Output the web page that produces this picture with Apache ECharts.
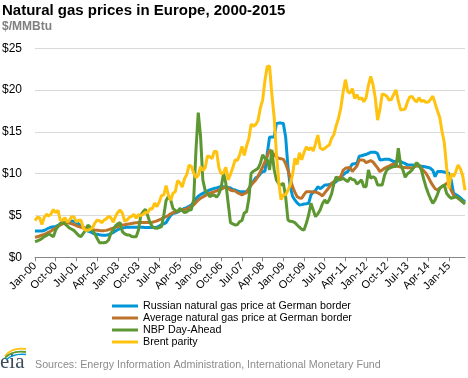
<!DOCTYPE html>
<html><head><meta charset="utf-8">
<script src="https://cdn.jsdelivr.net/npm/echarts@6/dist/echarts.min.js"></script>
<style>html,body{margin:0;padding:0;background:#fff}#c{width:468px;height:378px}</style>
</head><body><div id="c"></div>
<script>
const monthNames = ['Jan','Feb','Mar','Apr','May','Jun','Jul','Aug','Sep','Oct','Nov','Dec'];
const years = [2000,2001,2002,2003,2004,2005,2006,2007,2008,2009,2010,2011,2012,2013,2014,2015];
const lastMonth2015 = 8;
const categories = [];
years.forEach(function (y) {
  const n = y === 2015 ? lastMonth2015 : 12;
  for (let i = 0; i < n; i++) categories.push(monthNames[i] + '-' + String(y).slice(2));
});

const russianBorder = [
  3.15,3.15,3.15,3.15,3.2,3.35,3.5,3.6,3.65,3.7,3.8,3.95,
  4.05,4.15,4.25,4.3,4.35,4.3,4.15,4.0,3.8,3.6,3.35,3.15,
  3.05,2.9,2.8,2.75,2.7,2.65,2.65,2.65,2.7,2.85,2.95,3.15,
  3.3,3.4,3.5,3.55,3.6,3.6,3.6,3.6,3.6,3.6,3.6,3.6,
  3.55,3.55,3.55,3.55,3.55,3.6,3.75,3.9,4.0,4.15,4.6,5.0,
  5.26,5.3,5.4,5.55,5.65,5.86,5.95,6.1,6.26,6.6,7.0,7.3,
  7.5,7.65,7.8,7.95,8.05,8.15,8.25,8.3,8.4,8.45,8.45,8.4,
  8.35,8.3,8.1,8.05,7.95,7.85,7.85,7.85,7.85,8.2,8.75,9.1,
  9.5,9.65,10.0,10.25,10.3,12.4,14.35,14.4,14.4,16.0,16.05,16.05,
  16.0,14.4,10.8,8.45,7.3,6.86,6.5,6.26,6.3,6.38,6.4,6.46,
  7.46,7.8,8.0,8.45,8.2,8.4,8.65,8.65,8.7,8.8,8.9,9.05,
  9.4,9.6,9.85,10.1,10.25,10.7,11.16,11.2,11.24,12.1,12.15,12.24,
  12.3,12.44,12.56,12.56,12.56,12.4,11.64,11.68,11.72,11.72,11.72,11.6,
  11.45,11.5,11.56,11.45,11.32,11.2,11.05,11.04,11.04,11.0,10.95,10.9,
  10.9,10.85,10.8,10.75,10.65,10.4,9.65,10.25,10.25,10.25,10.2,10.1,
  10.05,9.25,7.66,7.5,7.34,7.1,6.86,6.66
];
const averageBorder = [
  2.39,2.45,2.55,2.65,2.75,2.87,3.0,3.15,3.35,3.5,3.7,3.86,
  4.0,4.14,4.14,4.1,4.0,3.9,3.8,3.67,3.6,3.5,3.47,3.4,
  3.35,3.3,3.27,3.25,3.2,3.19,3.19,3.22,3.3,3.4,3.5,3.59,
  3.68,3.77,3.86,3.9,3.95,4.0,4.05,4.1,4.14,4.15,4.15,4.15,
  4.15,4.15,4.17,4.2,4.27,4.35,4.47,4.6,4.75,4.86,5.0,5.2,
  5.34,5.42,5.5,5.58,5.65,5.72,5.78,5.95,6.1,6.26,6.55,6.85,
  7.06,7.22,7.38,7.54,7.65,7.75,7.85,7.95,8.05,8.13,8.3,8.45,
  8.25,8.05,7.95,7.95,7.74,7.6,7.46,7.6,7.74,8.2,8.65,8.95,
  9.25,9.7,10.25,10.8,11.44,12.1,12.84,12.6,12.24,12.0,11.84,11.8,
  11.72,11.2,10.45,9.4,8.45,7.8,7.26,7.1,7.06,7.5,7.85,7.85,
  7.85,7.82,7.8,7.7,7.55,7.34,7.7,8.05,8.4,8.85,9.05,9.25,
  9.5,9.65,10.4,10.65,10.7,10.73,10.25,10.6,10.92,11.64,11.64,11.62,
  11.32,11.45,11.56,11.4,11.04,10.7,10.25,10.45,10.65,10.8,10.92,11.05,
  11.16,11.0,10.85,10.8,10.77,10.75,10.72,10.7,10.65,10.8,10.95,11.04,
  10.65,10.35,10.05,9.6,9.05,8.6,8.2,8.05,8.25,8.45,8.6,8.85,
  8.85,8.0,7.46,7.25,7.06,6.85,6.66,6.46
];
const nbpDayAhead = [
  1.87,1.95,2.07,2.25,2.47,2.6,2.79,2.65,2.47,3.27,3.7,4.06,
  4.26,4.0,3.75,3.5,3.35,3.19,2.9,2.6,2.47,2.85,3.27,3.86,
  3.6,3.27,2.8,2.27,1.75,1.75,1.75,1.8,2.07,2.87,3.3,3.75,
  4.0,4.14,3.07,2.8,2.67,2.67,2.5,2.47,2.47,3.27,5.0,5.45,
  5.74,5.0,4.15,3.67,3.5,3.47,3.55,3.67,5.0,6.8,7.26,6.86,
  5.86,5.6,5.46,5.86,5.6,5.34,5.45,5.66,5.7,6.86,12.84,17.3,
  14.43,9.25,8.0,7.66,7.26,7.4,7.46,7.18,7.6,8.45,10.05,8.85,
  6.5,4.15,4.0,3.87,3.9,4.27,4.4,5.3,5.46,7.0,10.05,10.3,
  10.45,10.65,11.24,12.24,11.84,11.7,10.45,12.84,10.5,9.25,8.8,8.65,
  8.85,7.26,4.47,4.3,4.27,4.15,3.87,3.6,3.35,3.27,4.07,5.06,
  6.46,5.66,4.86,5.2,5.66,6.4,6.86,6.46,6.9,7.6,8.85,9.65,
  9.25,9.3,9.45,9.25,9.05,9.53,9.3,9.25,8.77,9.0,9.25,8.45,
  8.45,10.45,9.45,9.65,9.45,8.65,8.65,8.65,9.8,10.45,10.65,10.75,
  10.85,10.85,13.04,11.04,10.45,9.57,10.0,10.2,10.45,10.9,11.32,11.0,
  10.45,9.4,8.45,7.66,7.0,6.46,6.86,7.5,8.25,8.5,8.65,7.66,
  7.3,7.06,7.15,7.26,7.1,6.86,6.6,6.38
];
const brentParity = [
  4.40,4.79,4.74,3.92,4.78,5.14,4.94,5.21,5.71,5.34,5.61,4.42,
  4.42,4.74,4.22,4.42,4.88,4.80,4.24,4.43,4.42,3.54,3.24,3.23,
  3.35,3.50,4.09,4.44,4.37,4.15,4.44,4.59,4.90,4.75,4.20,4.88,
  5.38,5.65,5.28,4.31,4.46,4.77,4.89,5.15,4.67,5.11,4.96,5.14,
  5.39,5.32,5.80,5.79,6.48,6.07,6.59,7.37,7.45,8.58,7.43,6.83,
  7.67,7.84,9.16,8.94,8.39,9.37,9.92,11.03,10.85,10.09,9.52,9.80,
  10.86,10.38,10.70,12.11,12.03,11.82,12.70,12.63,10.68,9.97,10.13,10.77,
  9.26,9.92,10.70,11.64,11.59,12.25,13.26,12.20,13.31,14.20,15.93,15.68,
  15.89,16.38,17.87,18.81,21.17,22.81,22.88,19.52,16.76,12.34,9.04,6.89,
  7.49,7.47,8.02,8.65,9.88,11.83,11.11,12.50,11.66,12.55,13.22,12.84,
  13.13,12.72,13.59,14.62,13.09,12.89,13.03,13.28,13.42,14.25,14.70,15.77,
  16.64,17.88,19.77,21.25,19.83,19.63,20.17,19.00,19.45,18.89,19.10,18.60,
  19.08,20.57,21.63,20.65,19.02,16.41,17.69,19.54,19.46,19.26,18.80,18.88,
  19.48,20.01,18.70,17.63,17.68,17.74,18.61,19.19,19.24,18.81,18.58,19.10,
  18.64,18.78,18.53,18.58,18.89,19.28,18.41,17.52,16.74,15.07,13.70,10.75,
  8.23,10.02,9.64,10.26,11.05,10.60,9.75,8.02
];
const seriesNames = [
  'Russian natural gas price at German border',
  'Average natural gas price at German border',
  'NBP Day-Ahead',
  'Brent parity'
];
const seriesColors = ['#0096d7', '#bd732a', '#5d9732', '#ffc20e'];
const seriesData = [russianBorder, averageBorder, nbpDayAhead, brentParity];
const yTicks = { min: 0, max: 25, interval: 5 };

const FONT = "'Liberation Sans', Arial, sans-serif";
const chart = echarts.init(document.getElementById('c'), null, { renderer: 'canvas' });
chart.setOption({
  animation: false,
  backgroundColor: '#fff',
  textStyle: { fontFamily: FONT },
  grid: { left: 35, right: 3, top: 48.3, bottom: 120.7, outerBoundsMode: 'none', containLabel: false },
  xAxis: {
    type: 'category', data: categories, boundaryGap: false,
    axisLine: { lineStyle: { color: '#868686', width: 1 } },
    axisTick: { interval: 8, length: 4, lineStyle: { color: '#868686' } },
    axisLabel: { interval: 8, rotate: 45, fontSize: 11, color: '#000', margin: 7, fontFamily: FONT },
    splitLine: { show: false }
  },
  yAxis: {
    type: 'value', min: yTicks.min, max: yTicks.max, interval: yTicks.interval,
    axisLine: { show: false }, axisTick: { show: false },
    axisLabel: { formatter: function (v) { return '$' + v; }, fontSize: 12, color: '#000', margin: 13, fontFamily: FONT },
    splitLine: { lineStyle: { color: '#d9d9d9', width: 1 } }
  },
  legend: {
    orient: 'vertical', left: 112, top: 300, itemWidth: 26, itemHeight: 3, itemGap: 0,
    icon: 'rect', padding: 0,
    textStyle: { fontSize: 10.7, color: '#000', lineHeight: 12, fontFamily: FONT },
    data: seriesNames
  },
  series: seriesNames.map(function (name, i) {
    return {
      name: name, type: 'line', data: seriesData[i], showSymbol: false, symbol: 'none',
      lineStyle: { width: 3, color: seriesColors[i] }, itemStyle: { color: seriesColors[i] },
      emphasis: { disabled: true }
    };
  }),
  graphic: [
    { type: 'text', left: 2, top: 3, style: { text: 'Natural gas prices in Europe, 2000-2015', font: "bold 15px " + FONT, fill: '#000' } },
    { type: 'text', left: 2, top: 21, style: { text: '$/MMBtu', font: "bold 12px " + FONT, fill: '#7f7f7f' } },
    { type: 'text', left: 35, top: 360, style: { text: 'Sources: Energy Information Administration, International Monetary Fund', font: "10.7px " + FONT, fill: '#8c8c8c' } },
    { type: 'text', left: 0, top: 352, style: { text: 'eia', font: "21px 'Liberation Serif', serif", fill: '#3d4b5c' } },
    { type: 'bezierCurve', shape: { x1: 5, y1: 356, cpx1: 12, cpy1: 347, x2: 26, y2: 349 }, style: { stroke: '#ffc20e', lineWidth: 1.8, fill: null } },
    { type: 'bezierCurve', shape: { x1: 5, y1: 358, cpx1: 12, cpy1: 350, x2: 26, y2: 352 }, style: { stroke: '#5d9732', lineWidth: 1.8, fill: null } },
    { type: 'bezierCurve', shape: { x1: 6, y1: 360, cpx1: 13, cpy1: 353, x2: 26, y2: 354.5 }, style: { stroke: '#0096d7', lineWidth: 1.6, fill: null } }
  ]
});
</script>
</body></html>
